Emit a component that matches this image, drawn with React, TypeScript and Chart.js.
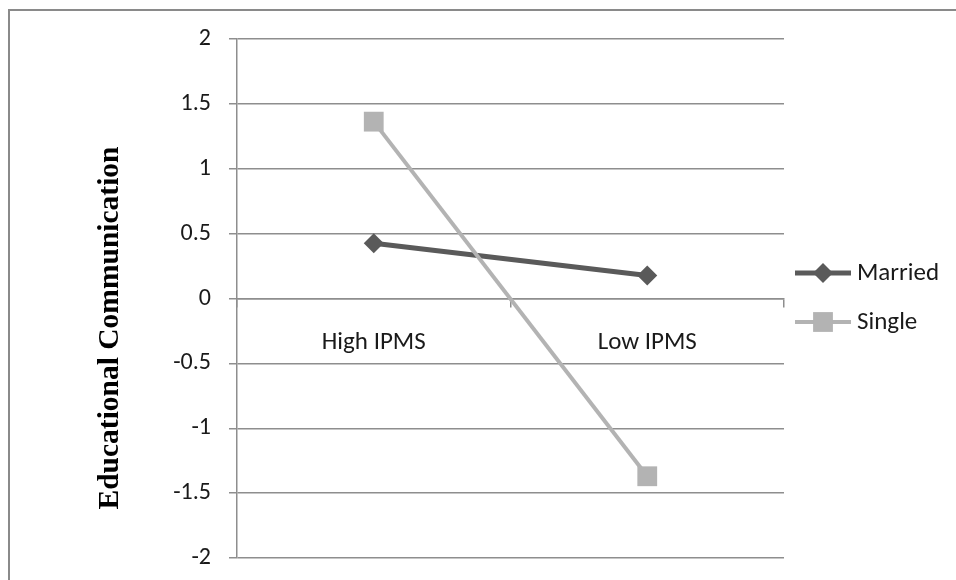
import { useEffect, useRef } from "react";
import { Chart, registerables } from "chart.js";

Chart.register(...registerables);

const categories = ["High IPMS", "Low IPMS"];
const seriesNames = ["Married", "Single"];
const marriedValues = [0.425, 0.178];
const singleValues = [1.363, -1.37];
const yTitle = "Educational Communication";
const yMin = -2;
const yMax = 2;
const yStep = 0.5;

const GRID = "#8e8e8e";
const MARRIED_COLOR = "#5a5a5a";
const SINGLE_COLOR = "#b3b3b3";
const SANS = "Carlito, Calibri, 'Open Sans', sans-serif";

const titlePlugin = {
  id: "yTitleCustom",
  afterDraw(chart: any) {
    const ctx = chart.ctx;
    ctx.save();
    ctx.translate(100, 317);
    ctx.rotate(-Math.PI / 2);
    ctx.font = "bold 29.5px 'Liberation Serif', 'Times New Roman', serif";
    ctx.fillStyle = "#000";
    ctx.textAlign = "center";
    ctx.textBaseline = "middle";
    ctx.fillText(yTitle, 0, 0);
    ctx.restore();
  },
};

const legendPlugin = {
  id: "excelLegend",
  afterDraw(chart: any) {
    const ctx = chart.ctx;
    const rows = [262, 311];
    chart.data.datasets.forEach((ds: any, i: number) => {
      const y = rows[i];
      const x0 = 785;
      const x1 = 841;
      const cx = (x0 + x1) / 2;
      ctx.save();
      ctx.strokeStyle = ds.borderColor;
      ctx.lineWidth = ds.borderWidth;
      ctx.beginPath();
      ctx.moveTo(x0, y);
      ctx.lineTo(x1, y);
      ctx.stroke();
      ctx.fillStyle = ds.pointBackgroundColor;
      const r = ds.pointRadius;
      ctx.beginPath();
      if (ds.pointStyle === "rect") {
        const h = r * Math.SQRT1_2;
        ctx.rect(cx - h, y - h, 2 * h, 2 * h);
      } else {
        ctx.moveTo(cx, y - r);
        ctx.lineTo(cx + r, y);
        ctx.lineTo(cx, y + r);
        ctx.lineTo(cx - r, y);
        ctx.closePath();
      }
      ctx.fill();
      ctx.font = `25px ${SANS}`;
      ctx.fillStyle = "#1a1a1a";
      ctx.textAlign = "left";
      ctx.textBaseline = "middle";
      ctx.fillText(ds.label, 847, y + 1);
      ctx.restore();
    });
  },
};

export default function App() {
  const canvasRef = useRef<HTMLCanvasElement | null>(null);

  useEffect(() => {
    document.documentElement.style.overflow = "hidden";
    document.body.style.overflow = "hidden";
    const canvas = canvasRef.current;
    if (!canvas) return;
    const chart = new Chart(canvas, {
      type: "line",
      data: {
        labels: categories,
        datasets: [
          {
            label: seriesNames[0],
            data: marriedValues,
            borderColor: MARRIED_COLOR,
            backgroundColor: MARRIED_COLOR,
            pointBackgroundColor: MARRIED_COLOR,
            pointBorderColor: MARRIED_COLOR,
            borderWidth: 5,
            pointStyle: "rectRot",
            pointRadius: 10,
            pointBorderWidth: 0,
            order: 1,
          } as any,
          {
            label: seriesNames[1],
            data: singleValues,
            borderColor: SINGLE_COLOR,
            backgroundColor: SINGLE_COLOR,
            pointBackgroundColor: SINGLE_COLOR,
            pointBorderColor: SINGLE_COLOR,
            borderWidth: 4,
            pointStyle: "rect",
            pointRadius: 14,
            pointBorderWidth: 0,
            order: 0,
          } as any,
        ],
      },
      options: {
        animation: false,
        responsive: false,
        maintainAspectRatio: false,
        devicePixelRatio: 1,
        layout: { autoPadding: false, padding: { left: 0, top: 28, right: 172, bottom: 22 } },
        plugins: {
          legend: { display: false },
          tooltip: { enabled: false },
        },
        scales: {
          x: {
            type: "category",
            position: { y: 0 } as any,
            offset: true,
            grid: {
              display: true,
              drawOnChartArea: false,
              drawTicks: true,
              tickLength: 8,
              offset: true,
              color: GRID,
              lineWidth: 1.5,
            },
            border: { display: true, color: GRID, width: 1.5 },
            ticks: {
              font: { family: SANS, size: 25 },
              color: "#1a1a1a",
              padding: 21,
              maxRotation: 0,
              autoSkip: false,
            },
          },
          y: {
            min: yMin,
            max: yMax,
            ticks: {
              stepSize: yStep,
              padding: 18,
              font: { family: SANS, size: 24 },
              color: "#1a1a1a",
              callback: (v: any) => String(Number(v)),
            },
            grid: { color: GRID, lineWidth: 1.5, tickLength: 8 },
            border: { display: true, color: GRID, width: 1.5 },
            afterFit: (s: any) => {
              s.width = 227;
              s.paddingTop = 0;
              s.paddingBottom = 0;
            },
          },
        },
      },
      plugins: [titlePlugin, legendPlugin],
    });
    return () => chart.destroy();
  }, []);

  return (
    <div
      style={{
        position: "absolute",
        left: 8,
        top: 9,
        width: 946,
        height: 569,
        borderTop: "2px solid #8a8a8a",
        borderLeft: "2px solid #8a8a8a",
        background: "#fff",
      }}
    >
      <canvas ref={canvasRef} width={946} height={569} style={{ display: "block", width: 946, height: 569 }} />
    </div>
  );
}
